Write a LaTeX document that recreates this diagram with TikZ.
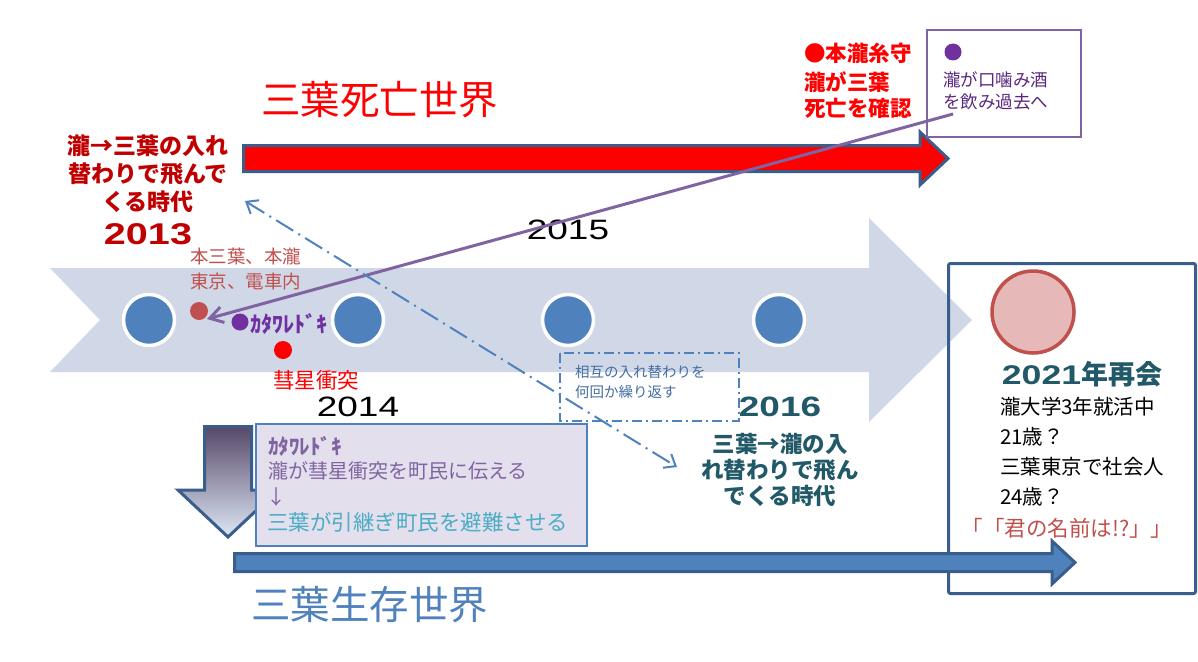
\documentclass[tikz,border=0pt]{standalone}
\usepackage{fontspec}
\setmainfont{Noto Sans CJK JP}
\newfontfamily\digits[FakeStretch=1.32]{Liberation Sans}
\usetikzlibrary{arrows.meta}
\definecolor{band}{HTML}{D0D8E8}
\definecolor{dotblue}{HTML}{4F81BD}
\definecolor{edgeblue}{HTML}{3A5E8C}
\definecolor{dred}{HTML}{C00000}
\definecolor{ired}{HTML}{C0504D}
\definecolor{vpurple}{HTML}{7030A0}
\definecolor{lpurple}{HTML}{8064A2}
\definecolor{tealc}{HTML}{215968}
\definecolor{lav}{HTML}{E4DFEC}
\definecolor{aqua}{HTML}{4BACC6}
\definecolor{pinkc}{HTML}{E6B9B8}
\definecolor{vred}{HTML}{FF0000}
\definecolor{gtop}{HTML}{574869}
\definecolor{gmid}{HTML}{B4C4E2}
\definecolor{gbot}{HTML}{DDE7F5}
\tikzset{
  bdot/.style={circle,fill=dotblue,draw=white,line width=3.5pt,minimum size=51pt,inner sep=0pt},
  sdot/.style={circle,inner sep=0pt,minimum size=#1},
  txt/.style={inner sep=0pt,outer sep=0pt},
  fs/.style={font=\fontsize{#1}{#1}\selectfont},
  bigarrow/.style={line width=3pt,draw=edgeblue,line join=miter},
}
\begin{document}
\begin{tikzpicture}[x=1pt,y=-1pt]
\useasboundingbox (0,0) rectangle (1198,661);
% light band arrow
\fill[band] (50,268) -- (869,268) -- (869,218) -- (972,320) -- (869,422) -- (869,372) -- (50,372) -- (100,320) -- cycle;
% circles
\node[bdot] (c1) at (149,320) {};
\node[bdot] (c2) at (358,320) {};
\node[bdot] (c3) at (568,320) {};
\node[bdot] (c4) at (779,320) {};
% red arrow
\path[bigarrow,fill=vred] (243.5,145.5) -- (920,145.5) -- (920,132) -- (948,158.5) -- (920,185) -- (920,171.5) -- (243.5,171.5) -- cycle;
% title
\node[txt,anchor=west,text=vred,fs=39.5] (t1) at (261,100) {三葉死亡世界};
% left red text
\node[txt,align=center,text=dred,font=\fontsize{23}{28}\selectfont\bfseries] (l1) at (148,174) {瀧→三葉の入れ\\替わりで飛んで\\くる時代};
\node[txt,text=dred,font=\fontsize{30}{30}\digits\bfseries] (y13) at (148,234) {2013};
% small texts on band
\node[txt,anchor=west,align=left,text=ired,font=\fontsize{18.5}{25}\selectfont] (hon) at (190,269) {本三葉、本瀧\\東京、電車内};
\node[sdot=18pt,fill=ired] (d1) at (199,311) {};
\node[sdot=17pt,fill=vpurple] (d2) at (240,322) {};
\node[txt,anchor=west,text=vpurple,font=\fontsize{22}{22}\selectfont\bfseries] (kat1) at (250,324) {ｶﾀﾜﾚﾄﾞｷ};
\node[sdot=18pt,fill=vred] (d3) at (283,350) {};
\node[txt,text=vred,fs=21.5] (sui) at (316,380) {彗星衝突};
\node[txt,font=\fontsize{28}{28}\digits] (y14) at (358,407) {2014};
\node[txt,font=\fontsize{28}{28}\digits] (y15) at (568,230) {2015};
% dash-dot box
\draw[dotblue,line width=1.2pt,dash pattern=on 10pt off 4pt on 2pt off 4pt] (560,353) rectangle (739,421);
\node[txt,anchor=west,align=left,text=dotblue!85!black,font=\fontsize{14.5}{20}\selectfont] (sogo) at (575,382) {相互の入れ替わりを\\何回か繰り返す};
% 2016 block
\node[txt,text=tealc,font=\fontsize{28}{28}\digits\bfseries] (y16) at (780,407) {2016};
\node[txt,align=center,text=tealc,font=\fontsize{22.5}{26}\selectfont\bfseries] (mitsuha) at (780,470) {三葉→瀧の入\\れ替わりで飛ん\\でくる時代};
% right box
\draw[line width=3pt,draw=edgeblue,rounded corners=2pt] (948.5,263.5) rectangle (1195.5,593.5);
\node[circle,fill=pinkc,draw=ired,line width=3.5pt,minimum size=82pt,inner sep=0pt] (pc) at (1033,312) {};
\node[txt,text=tealc,font=\fontsize{27}{27}\selectfont\bfseries] (y21) at (1082,374) {{\digits 2021}年再会};
\node[txt,anchor=west,align=left,font=\fontsize{20.5}{30}\selectfont] (ages) at (1000,452) {瀧大学3年就活中\\21歳？\\三葉東京で社会人\\24歳？};
\node[txt,text=ired,font=\fontsize{21.5}{22}\selectfont] (kimi) at (1067,528) {「「君の名前は!?」」};
% down arrow
\path[line width=3pt,draw=edgeblue,top color=gtop,middle color=gmid,bottom color=gbot,line join=miter] (204.5,426.5) -- (251.5,426.5) -- (251.5,490) -- (278,490) -- (228,537) -- (178,490) -- (204.5,490) -- cycle;
% lavender box
\draw[fill=lav,draw=dotblue,line width=1.5pt] (256,424) rectangle (587,546);
\node[txt,anchor=west,text=lpurple,font=\fontsize{21}{21}\selectfont\bfseries] (kat2) at (268,446) {ｶﾀﾜﾚﾄﾞｷ};
\node[txt,anchor=west,text=lpurple,fs=20] (tsutae) at (268,471) {瀧が彗星衝突を町民に伝える};
\node[txt,anchor=west,text=lpurple,fs=20] (darr) at (266,497) {↓};
\node[txt,anchor=west,text=aqua,fs=21.5] (hinan) at (267,522) {三葉が引継ぎ町民を避難させる};
% bottom blue arrow
\path[bigarrow,fill=dotblue] (234.5,553.5) -- (1052,553.5) -- (1052,541) -- (1075,562.5) -- (1052,584) -- (1052,571.5) -- (234.5,571.5) -- cycle;
\node[txt,anchor=west,text=dotblue,fs=39.5] (t2) at (251,605) {三葉生存世界};
% top right
\node[txt,anchor=west,text=vred,font=\fontsize{21.5}{21.5}\selectfont\bfseries] (r1) at (804,53) {●本瀧糸守};
\node[txt,anchor=west,text=vred,font=\fontsize{21.5}{21.5}\selectfont\bfseries] (r2) at (804,82) {瀧が三葉};
\node[txt,anchor=west,text=vred,font=\fontsize{21.5}{21.5}\selectfont\bfseries] (r3) at (804,108) {死亡を確認};
\draw[fill=white,draw=lpurple,line width=1.5pt] (927,30) rectangle (1081,137);
\node[sdot=17pt,fill=vpurple] (d4) at (953,52) {};
\node[txt,anchor=west,align=left,text=vpurple!80!black,font=\fontsize{17.5}{22}\selectfont] (kuchi) at (943,91) {瀧が口噛み酒\\を飲み過去へ};
% connectors
\coordinate (pa1) at (953,114);
\coordinate (pa2) at (207,319);
\draw[lpurple,line width=3pt,-{Straight Barb[length=13pt,width=16pt]}] (pa1) -- (pa2);
\coordinate (da1) at (245,201);
\coordinate (da2) at (677,467);
\draw[dotblue,line width=2pt,dash pattern=on 20pt off 6pt on 2pt off 6pt,{Straight Barb[length=10pt,width=16pt]}-{Straight Barb[length=10pt,width=16pt]}] (da1) -- (da2);
\end{tikzpicture}
\end{document}
